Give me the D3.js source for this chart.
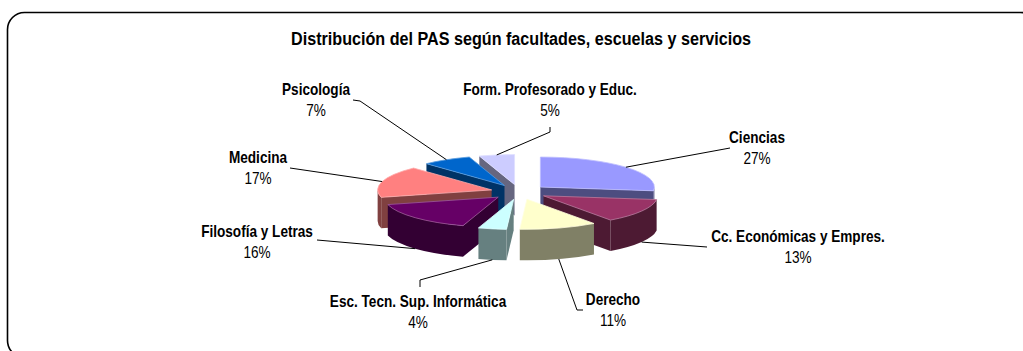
<!DOCTYPE html>
<html>
<head>
<meta charset="utf-8">
<script src="https://cdn.jsdelivr.net/npm/d3@7"></script>
<style>
  html, body { margin: 0; padding: 0; background: #fff; }
  svg { display: block; }
  text { font-family: "Liberation Sans", Arial, sans-serif; fill: #000; }
</style>
</head>
<body>
<svg id="chart" width="1023" height="351"></svg>
<script>
// Staff distribution by faculty (percent of total)
const categories = [
  "Ciencias",
  "Cc. Económicas y Empres.",
  "Derecho",
  "Esc. Tecn. Sup. Informática",
  "Filosofía y Letras",
  "Medicina",
  "Psicología",
  "Form. Profesorado y Educ."
];
const shares = [27, 13, 11, 4, 16, 17, 7, 5];
const topColors = ["#9999FF", "#993366", "#FFFFCC", "#CCFFFF", "#660066", "#FF8080", "#0066CC", "#CCCCFF"];

// Label placement: centre x and baseline y of the category name
const labelPos = [
  [757, 143], [798, 242], [613, 305], [418, 307],
  [257, 237], [258, 163], [316, 95], [550, 95]
];
// Leader line bend points from the label side back toward the slice
const leaderEnds = [
  [[730, 148]],
  [[707, 247]],
  [[583, 310], [577, 310]],
  [[420, 287], [420, 280]],
  [[317, 240]],
  [[290, 168]],
  [[353, 100], [360, 101]],
  [[550, 127], [550, 132]]
];

const svg = d3.select("#chart");
const textScaleX = 0.85;

// Chart frame
svg.append("rect")
  .attr("x", 7.5).attr("y", 12.5)
  .attr("width", 1030).attr("height", 345)
  .attr("rx", 17).attr("ry", 17)
  .attr("fill", "#fff").attr("stroke", "#000").attr("stroke-width", 1.6);

// Title
svg.append("text")
  .attr("transform", `translate(521,45) scale(${textScaleX},1)`)
  .attr("text-anchor", "middle")
  .attr("font-size", 19).attr("font-weight", "bold")
  .text("Distribución del PAS según facultades, escuelas y servicios");

// 3D pie geometry
const cx = 519, cy = 192, rx = 114, ry = 30, depth = 31, explode = 0.25;

const data = categories.map((c, i) => ({ name: c, value: shares[i], color: topColors[i], idx: i }));
const pie = d3.pie().sort(null).value(d => d.value).startAngle(0).endAngle(2 * Math.PI);
const arcs = pie(data);
const total = d3.sum(shares);

arcs.forEach(a => {
  a.mid = (a.startAngle + a.endAngle) / 2;
  a.cx = cx + explode * rx * Math.sin(a.mid);
  a.cy = cy - explode * ry * Math.cos(a.mid);
});

const P = (a, ang, dy = 0) => [a.cx + rx * Math.sin(ang), a.cy - ry * Math.cos(ang) + dy];

function topPath(a) {
  const p0 = P(a, a.startAngle), p1 = P(a, a.endAngle);
  const large = (a.endAngle - a.startAngle) > Math.PI ? 1 : 0;
  return `M${a.cx},${a.cy}L${p0}A${rx},${ry} 0 ${large} 1 ${p1}Z`;
}
function rimPath(a, s, e) {
  const t0 = P(a, s), t1 = P(a, e), b0 = P(a, s, depth), b1 = P(a, e, depth);
  return `M${t0}A${rx},${ry} 0 0 1 ${t1}L${b1}A${rx},${ry} 0 0 0 ${b0}Z`;
}
function cutPath(a, ang) {
  const o = P(a, ang);
  return `M${a.cx},${a.cy}L${o}L${o[0]},${o[1] + depth}L${a.cx},${a.cy + depth}Z`;
}

// Paint from back to front
const order = arcs.slice().sort((p, q) => (-Math.cos(p.mid)) - (-Math.cos(q.mid)));
const pieG = svg.append("g");

order.forEach(a => {
  const g = pieG.append("g");
  const c = d3.rgb(a.data.color);
  const sideColor = d3.rgb(c.r * 0.5, c.g * 0.5, c.b * 0.5).formatHex();

  // radial cut faces facing the viewer
  if (Math.sin(a.startAngle) < -1e-6) {
    g.append("path").attr("d", cutPath(a, a.startAngle)).attr("fill", sideColor);
  }
  if (Math.sin(a.endAngle) > 1e-6) {
    g.append("path").attr("d", cutPath(a, a.endAngle)).attr("fill", sideColor);
  }
  // outer rim on the front half
  const s = Math.max(a.startAngle, Math.PI / 2), e = Math.min(a.endAngle, 3 * Math.PI / 2);
  if (e > s) {
    g.append("path").attr("d", rimPath(a, s, e)).attr("fill", sideColor);
  }
  // top face
  const rim = d3.interpolateRgb(a.data.color, "#ffffff")(0.35);
  g.append("path").attr("d", topPath(a))
    .attr("fill", a.data.color)
    .attr("stroke", rim).attr("stroke-width", 0.8).attr("stroke-linejoin", "round");
});

// Leader lines and labels
const labelG = svg.append("g");
arcs.forEach(a => {
  const i = a.data.idx;
  const back = Math.cos(a.mid) > 0;
  const start = P(a, a.mid, back ? 0 : depth);
  const pts = [start].concat(leaderEnds[i].slice().reverse());
  labelG.append("path")
    .attr("d", d3.line()(pts))
    .attr("fill", "none").attr("stroke", "#000").attr("stroke-width", 1);

  const [lx, ly] = labelPos[i];
  const t = labelG.append("g").attr("transform", `translate(${lx},${ly}) scale(${textScaleX},1)`);
  t.append("text").attr("text-anchor", "middle").attr("font-size", 16).attr("font-weight", "bold")
    .text(a.data.name);
  t.append("text").attr("text-anchor", "middle").attr("font-size", 16).attr("y", 21.5)
    .text(d3.format(".0%")(a.data.value / total));
});
</script>
</body>
</html>
